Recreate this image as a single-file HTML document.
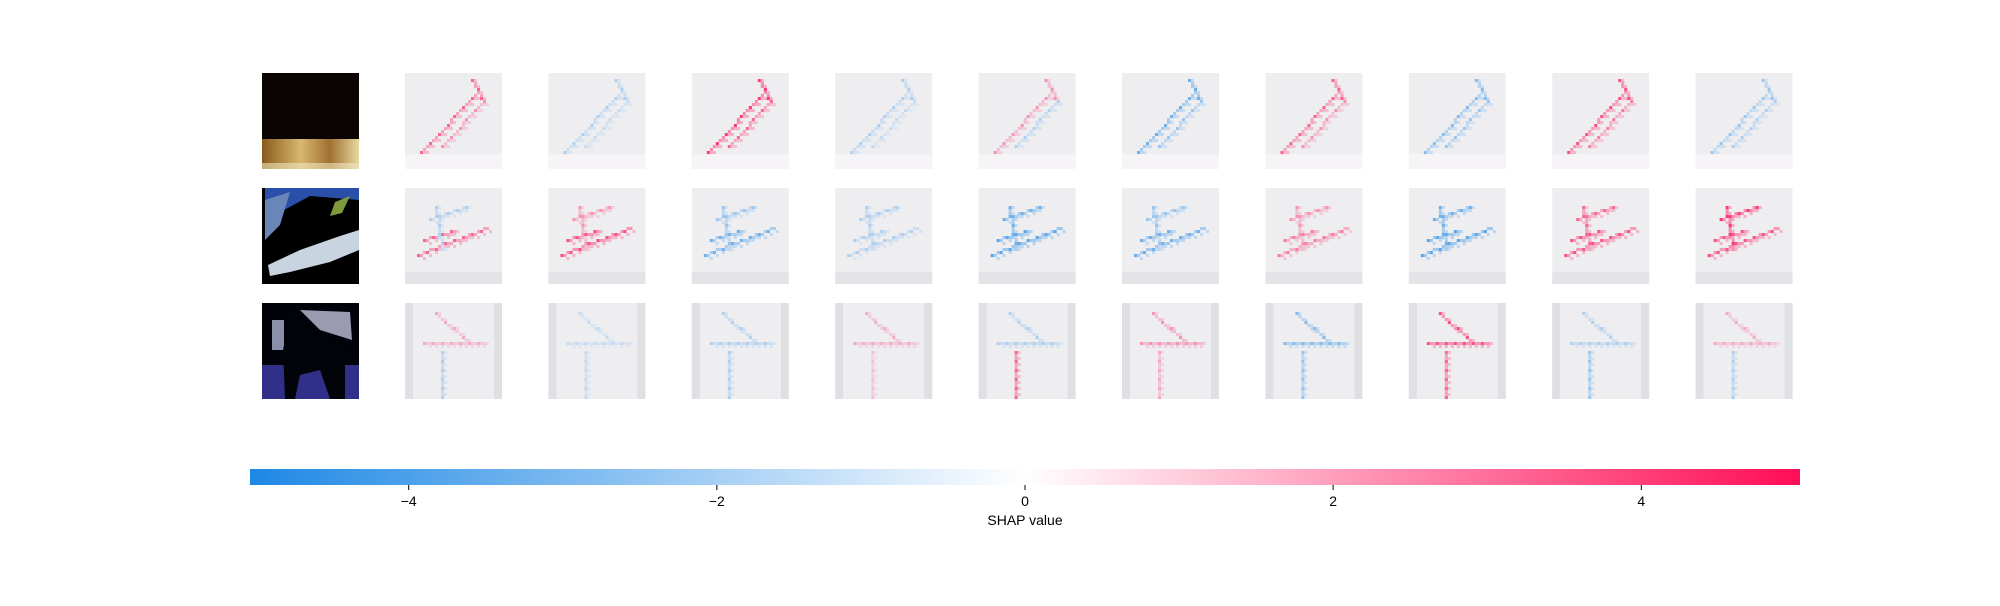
<!DOCTYPE html>
<html><head><meta charset="utf-8"><style>
html,body{margin:0;padding:0;background:#fff;}
svg{display:block;font-family:"Liberation Sans","DejaVu Sans",sans-serif;}
</style></head><body>
<svg id="chart" width="2000" height="606" viewBox="0 0 2000 606" xmlns="http://www.w3.org/2000/svg">
<defs>
<linearGradient id="cbar" x1="0" x2="1" y1="0" y2="0">
<stop offset="0" stop-color="rgb(30,136,229)"/>
<stop offset="0.5" stop-color="#ffffff"/>
<stop offset="1" stop-color="rgb(255,13,87)"/>
</linearGradient>
<linearGradient id="sand" x1="0" x2="1" y1="0" y2="0">
<stop offset="0" stop-color="#8a5a1a"/><stop offset="0.4" stop-color="#d8b870"/><stop offset="0.7" stop-color="#a07030"/><stop offset="1" stop-color="#e8d8a0"/>
</linearGradient>
</defs>
<g id="originals">
 <g>
  <rect x="262" y="73" width="97" height="96" fill="#0a0402"/>
  <rect x="262" y="139" width="97" height="30" fill="url(#sand)"/>
  <rect x="262" y="163" width="97" height="6" fill="#f0e6c0" opacity="0.6"/>
 </g>
 <g>
  <rect x="262" y="188" width="97" height="96" fill="#000"/>
  <polygon points="265,188 359,188 359,200 310,196 275,215 265,235" fill="#2a4fa8"/>
  <polygon points="265,200 290,192 280,225 265,240" fill="#6a86b8"/>
  <polygon points="268,265 300,250 340,236 359,230 359,250 330,262 290,272 270,276" fill="#c8d4e0"/>
  <polygon points="335,202 350,196 342,213 330,216" fill="#7c9a3c"/>
 </g>
 <g>
  <rect x="262" y="303" width="97" height="96" fill="#02020a"/>
  <polygon points="300,310 350,312 352,340 320,330" fill="#9a9ab0"/>
  <rect x="272" y="320" width="12" height="30" fill="#8a90a8"/>
  <rect x="262" y="365" width="97" height="34" fill="#30308a"/>
  <polygon points="290,315 310,330 330,345 345,355 345,399 330,399 320,370 300,375 295,399 285,399 283,350" fill="#03030a"/>
 </g>
</g>
<g id="panels"></g>
<g>
 <rect x="250" y="469" width="1550" height="16" fill="url(#cbar)"/>
 <g id="cticks"></g>
 <text x="1025" y="525" font-size="14" text-anchor="middle" fill="#000">SHAP value</text>
</g>
</svg>
<script>
// SHAP stroke intensities per column (10 output classes) for each row
const row1A=[3,-1.5,4,-1.5,2,-3,3,-2.5,3.5,-2];
const row1B=[2,-1,3,-1,-1.5,-2,2,-2,2.5,-1.5];
const row2A=[3,3.5,-3,-1.5,-3.5,-3,2.5,-3.5,3.5,3.5];
const row2B=[-1.5,2,-2,-1.5,-3,-2,2,-3,3,4];
const row3A=[1.5,-1,-1.5,1.5,-1.5,2,-2.5,3.5,-1.5,1.5];
const row3B=[-1.5,-1,-1.5,1,3,1.5,-2,3,-2,-1.5];
const tickValues=[-4,-2,0,2,4];
const vmin=-5.03, vmax=5.03;

const NS="http://www.w3.org/2000/svg";
const panels=document.getElementById('panels');
const colX=i=>405+i*143.4;
const rowY=[73,188,303];
const cell=3;
const shapes=[
 {A:[[5,26,24,6],[22,2,25,8]],B:[[12,24,26,9]]},
 {A:[[4,22,27,13],[6,17,16,14]],B:[[8,10,20,6],[10,6,12,20]]},
 {A:[[10,3,20,12],[6,13,26,13]],B:[[12,16,12,31]]}
];
const rows=[[row1A,row1B],[row2A,row2B],[row3A,row3B]];
function col(v){
 const t=Math.min(1,Math.abs(v)/5);
 const bg=[238,238,242];
 const e=v<0?[30,136,229]:[255,13,87];
 return 'rgb('+bg.map((b,k)=>Math.round(b+(e[k]-b)*t)).join(',')+')';
}
function addRect(g,x,y,w,h,fill){
 const r=document.createElementNS(NS,'rect');
 r.setAttribute('x',x);r.setAttribute('y',y);r.setAttribute('width',w);r.setAttribute('height',h);r.setAttribute('fill',fill);
 g.appendChild(r);return r;
}
for(let r=0;r<3;r++){
 for(let c=0;c<10;c++){
  const g=document.createElementNS(NS,'g');
  
  
  panels.appendChild(g);
  const x0=colX(c), y0=rowY[r];
  addRect(g,x0,y0,97,96,'#eeeef1');
  if(r===0) addRect(g,x0,y0+81,97,15,'#f6f4f6');
  if(r===1) addRect(g,x0,y0+84,97,12,'#e4e4e8');
  if(r===2){addRect(g,x0,y0,8,96,'#e0e0e4');addRect(g,x0+89,y0,8,96,'#e0e0e4');}
  const grid={};
  ['A','B'].forEach((k,ki)=>{
   const val=rows[r][ki][c];
   shapes[r][k].forEach(s=>{
    const n=Math.max(Math.abs(s[2]-s[0]),Math.abs(s[3]-s[1]));
    for(let i=0;i<=n;i++){
     const gx=Math.round(s[0]+(s[2]-s[0])*i/n), gy=Math.round(s[1]+(s[3]-s[1])*i/n);
     const f=(i%3===0)?1:0.55;
     grid[gx+','+gy]=val*f;
     const nb=(gx+1)+','+(gy+(i%2));
     if(!(nb in grid)) grid[nb]=val*0.35;
    }
   });
  });
  Object.keys(grid).forEach(key=>{
   const [gx,gy]=key.split(',').map(Number);
   if(gx<0||gx>31||gy<0||gy>31) return;
   const rc=addRect(g,x0+gx*cell,y0+gy*cell,cell+0.1,cell+0.1,col(grid[key]));
   
   
  });
 }
}
const ct=document.getElementById('cticks');
const cx=v=>250+(v-vmin)/(vmax-vmin)*1550;
tickValues.forEach(v=>{
 const l=document.createElementNS(NS,'line');
 l.setAttribute('x1',cx(v));l.setAttribute('x2',cx(v));l.setAttribute('y1',485);l.setAttribute('y2',490);
 l.setAttribute('stroke','#000');l.setAttribute('stroke-width',1);
 
 
 ct.appendChild(l);
 const t=document.createElementNS(NS,'text');
 t.setAttribute('x',cx(v));t.setAttribute('y',506);t.setAttribute('font-size',14);t.setAttribute('text-anchor','middle');
 t.textContent=v<0?'\u2212'+Math.abs(v):String(v);
 
 
 ct.appendChild(t);
});
</script>
</body></html>
